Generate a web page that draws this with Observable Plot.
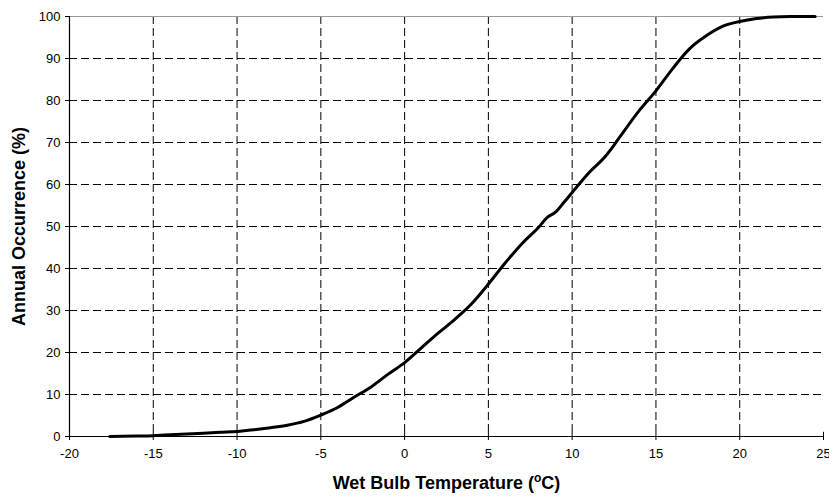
<!DOCTYPE html>
<html>
<head>
<meta charset="utf-8">
<script src="https://cdn.jsdelivr.net/npm/d3@7"></script>
<script src="https://cdn.jsdelivr.net/npm/@observablehq/plot@0.6"></script>
<style>
  html, body { margin: 0; padding: 0; background: #fff; }
  #chart svg { display: block; }
</style>
</head>
<body>
<div id="chart"></div>
<script>
// Wet bulb temperature (°C) and cumulative annual occurrence (%)
const temperature = [-17.6, -16, -15, -14, -13, -12, -11, -10, -9, -8, -7, -6, -5, -4, -3, -2, -1, 0,
  1, 2, 3, 4, 5, 6, 7, 8, 8.5, 9, 9.5, 10, 11, 12, 12.5, 13, 14, 15, 16, 17, 18, 19, 20, 21, 22, 23, 24.5];
const occurrence = [0, 0.1, 0.2, 0.4, 0.6, 0.8, 1.0, 1.2, 1.6, 2.1, 2.7, 3.6, 5.1, 6.9, 9.4, 11.8, 14.8, 17.6,
  21.1, 24.6, 27.9, 31.6, 36.3, 41.3, 45.9, 49.8, 52.1, 53.4, 55.7, 58.1, 62.8, 66.8, 69.4, 72.2, 77.6, 82.3, 87.6, 92.3, 95.4, 97.7, 98.8, 99.5, 99.9, 100, 100];
const xTicks = [-20, -15, -10, -5, 0, 5, 10, 15, 20, 25];
const yTicks = [0, 10, 20, 30, 40, 50, 60, 70, 80, 90, 100];
const xGrid = [-15, -10, -5, 0, 5, 10, 15, 20];
const yGrid = [10, 20, 30, 40, 50, 60, 70, 80, 90];
const xTitle = "Wet Bulb Temperature (°C)";
const yTitle = "Annual Occurrence (%)";

const data = temperature.map((t, i) => ({t, p: occurrence[i]}));
const font = "'Liberation Sans', Arial, sans-serif";

const chart = Plot.plot({
  width: 829,
  height: 501,
  marginLeft: 69,
  marginRight: 6,
  marginTop: 16,
  marginBottom: 65,
  style: {fontFamily: font, fontSize: "13px", color: "#000", background: "#fff"},
  x: {domain: [-20, 25]},
  y: {domain: [0, 100]},
  marks: [
    Plot.gridX(xGrid, {stroke: "#000", strokeOpacity: 1, strokeWidth: 1, strokeDasharray: "8,4"}),
    Plot.gridY(yGrid, {stroke: "#000", strokeOpacity: 1, strokeWidth: 1, strokeDasharray: "8,4"}),
    Plot.ruleY([100], {stroke: "#999", strokeWidth: 1}),
    Plot.axisX({ticks: xTicks, tickSize: 4, tickPadding: 8, tickFormat: d => String(d), label: null, fontSize: 13, fill: "#000"}),
    Plot.axisY({ticks: yTicks, tickSize: 4, tickPadding: 5, tickFormat: d => String(d), label: null, fontSize: 13, fill: "#000"}),
    Plot.ruleX([-20], {stroke: "#000", strokeWidth: 1.2}),
    Plot.ruleY([0], {stroke: "#000", strokeWidth: 1.2}),
    Plot.ruleX(xTicks, {x: d => d, y1: 0, y2: 1, stroke: "#000"}),
    Plot.line(data, {x: "t", y: "p", stroke: "#000", strokeWidth: 3, curve: "monotone-x"}),
    Plot.text([xTitle], {frameAnchor: "bottom", dy: 52, text: d => d, fontWeight: "bold", fontSize: 18, fill: "#000"}),
    Plot.text([yTitle], {frameAnchor: "left", textAnchor: "middle", dx: -50, rotate: -90, text: d => d, fontWeight: "bold", fontSize: 18, fill: "#000"})
  ]
});

document.getElementById("chart").appendChild(chart);

// render the degree sign as a superscript "o", as in the original
d3.select(chart).selectAll("text").each(function() {
  const el = d3.select(this);
  if (el.text() === xTitle) {
    el.text(null);
    el.append("tspan").text("Wet Bulb Temperature (");
    el.append("tspan").attr("baseline-shift", "super").attr("font-size", "12px").text("o");
    el.append("tspan").text("C)");
  }
});
</script>
</body>
</html>
